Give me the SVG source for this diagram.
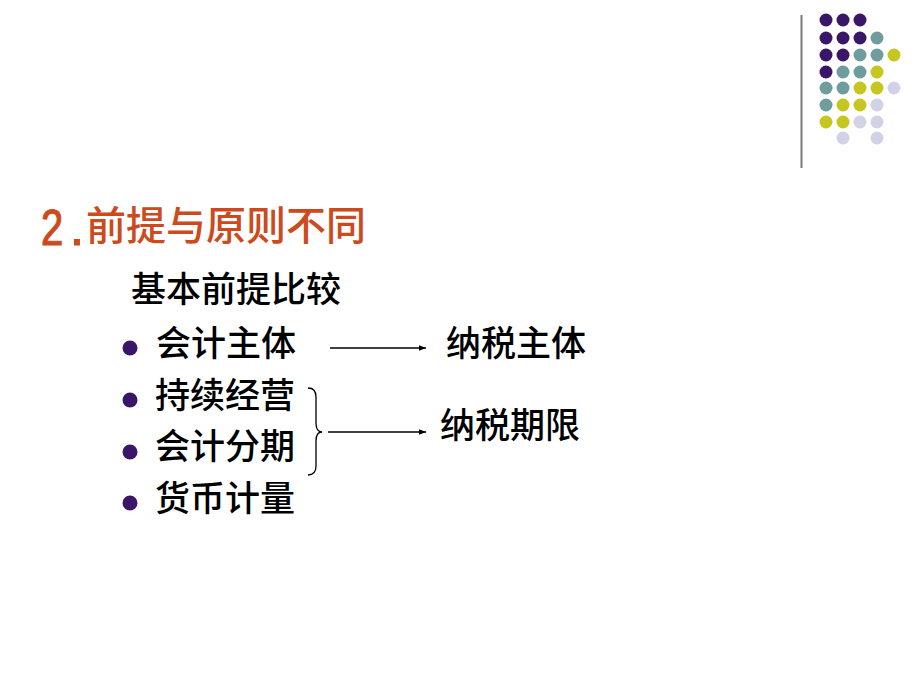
<svg xmlns="http://www.w3.org/2000/svg" width="920" height="690" viewBox="0 0 920 690">
<defs>
<style>
.t{font-family:"Noto Sans CJK SC","Liberation Sans",sans-serif;font-size:35px;fill:#000;font-weight:500;}
.h{font-family:"Noto Sans CJK SC","Liberation Sans",sans-serif;font-size:40px;fill:#cc4a1c;font-weight:500;}
.d{font-family:"Liberation Sans",sans-serif;font-size:50px;fill:#cc4a1c;stroke:#cc4a1c;stroke-width:1.2;}
.b{fill:#3a1668;}
.p{fill:#3a1668;}.g{fill:#6f9d9d;}.y{fill:#c6c620;}.l{fill:#d2d2e6;}
.c{stroke:#000;stroke-width:1.3;fill:none;}
</style>
<marker id="ah" viewBox="0 0 10 10" refX="10" refY="5" markerWidth="7" markerHeight="7" markerUnits="userSpaceOnUse" orient="auto">
<path d="M0,1 L10,5 L0,9 Z" fill="#000"/>
</marker>
</defs>
<rect width="920" height="690" fill="#fff"/>
<g id="decor">
<line x1="801.5" y1="15" x2="801.5" y2="168" stroke="#7a7a7a" stroke-width="2"/>
<g>
<circle class="p" cx="826" cy="20" r="6.5"/><circle class="p" cx="843" cy="20" r="6.5"/><circle class="p" cx="860" cy="20" r="6.5"/>
<circle class="p" cx="826" cy="38" r="6.5"/><circle class="p" cx="843" cy="38" r="6.5"/><circle class="p" cx="860" cy="38" r="6.5"/><circle class="g" cx="877" cy="38" r="6.5"/>
<circle class="p" cx="826" cy="55" r="6.5"/><circle class="p" cx="843" cy="55" r="6.5"/><circle class="g" cx="860" cy="55" r="6.5"/><circle class="g" cx="877" cy="55" r="6.5"/><circle class="y" cx="894" cy="55" r="6.5"/>
<circle class="p" cx="826" cy="72" r="6.5"/><circle class="g" cx="843" cy="72" r="6.5"/><circle class="g" cx="860" cy="72" r="6.5"/><circle class="y" cx="877" cy="72" r="6.5"/>
<circle class="g" cx="826" cy="88" r="6.5"/><circle class="g" cx="843" cy="88" r="6.5"/><circle class="y" cx="860" cy="88" r="6.5"/><circle class="y" cx="877" cy="88" r="6.5"/><circle class="l" cx="894" cy="88" r="6.5"/>
<circle class="g" cx="826" cy="105" r="6.5"/><circle class="y" cx="843" cy="105" r="6.5"/><circle class="y" cx="860" cy="105" r="6.5"/><circle class="l" cx="877" cy="105" r="6.5"/>
<circle class="y" cx="826" cy="122" r="6.5"/><circle class="y" cx="843" cy="122" r="6.5"/><circle class="l" cx="860" cy="122" r="6.5"/><circle class="l" cx="877" cy="122" r="6.5"/>
<circle class="l" cx="843" cy="138" r="6.5"/><circle class="l" cx="877" cy="138" r="6.5"/>
</g>
</g>
<g id="title">
<text class="d" transform="translate(41,245) scale(0.8,1)">2</text>
<text class="d" x="70" y="245">.</text>
<text class="h" x="86" y="240">前提与原则不同</text>
</g>
<g id="subtitle"><text class="t" x="131" y="302">基本前提比较</text></g>
<g id="n1"><circle class="b" cx="130" cy="348" r="7.5"/><text class="t" x="156" y="356">会计主体</text></g>
<g id="n2"><circle class="b" cx="130" cy="400" r="7.5"/><text class="t" x="155" y="408">持续经营</text></g>
<g id="n3"><circle class="b" cx="130" cy="452" r="7.5"/><text class="t" x="155" y="459">会计分期</text></g>
<g id="n4"><circle class="b" cx="130" cy="503" r="7.5"/><text class="t" x="155" y="511">货币计量</text></g>
<g id="t1"><text class="t" x="446" y="356">纳税主体</text></g>
<g id="t2"><text class="t" x="440" y="438">纳税期限</text></g>
<g id="connectors">
<line class="c" x1="330" y1="348" x2="426" y2="348" marker-end="url(#ah)"/>
<line class="c" x1="328" y1="432" x2="426" y2="432" marker-end="url(#ah)"/>
<path class="c" d="M308,388 Q316,388 316,397 L316,423 Q316,432 322,432 Q316,432 316,441 L316,466 Q316,475 308,475"/>
</g>
</svg>
